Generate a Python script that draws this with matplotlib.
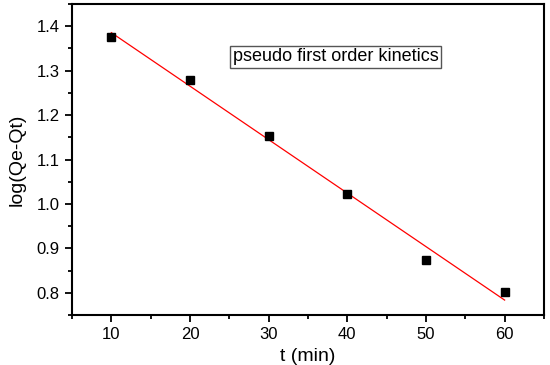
import numpy as np
import matplotlib
matplotlib.use("Agg")
import matplotlib.pyplot as plt
from matplotlib.ticker import MultipleLocator

plt.rcParams['font.family'] = ['Liberation Sans', 'DejaVu Sans']

t = [10, 20, 30, 40, 50, 60]
logq = [1.375, 1.280, 1.153, 1.023, 0.874, 0.802]

# linear fit for the red line
k, b = np.polyfit(t, logq, 1)
tfit = np.array([t[0], t[-1]])

fig = plt.figure(figsize=(5.5, 3.65), dpi=100)
ax = fig.add_axes([0.131, 0.137, 0.858, 0.852])

ax.plot(tfit, k * tfit + b, color='red', lw=0.9)
ax.plot(t, logq, 's', color='black', ms=6.2)

ax.set_xlim(5, 65)
ax.set_ylim(0.75, 1.45)
ax.xaxis.set_major_locator(MultipleLocator(10))
ax.xaxis.set_minor_locator(MultipleLocator(5))
ax.yaxis.set_major_locator(MultipleLocator(0.1))
ax.yaxis.set_minor_locator(MultipleLocator(0.05))
ax.yaxis.set_major_formatter(plt.FormatStrFormatter('%.1f'))
ax.tick_params(which='major', direction='out', length=5, width=1.3, labelsize=12, pad=4)
ax.tick_params(which='minor', direction='out', length=3, width=1.3)
ax.tick_params(top=False, right=False)
for s in ax.spines.values():
    s.set_linewidth(1.5)

ax.set_xlabel('t (min)', fontsize=14, labelpad=4)
ax.set_ylabel('log(Qe-Qt)', fontsize=14, labelpad=8)

ax.text(38.5, 1.331, 'pseudo first order kinetics', fontsize=13, ha='center', va='center',
        bbox=dict(boxstyle='square,pad=0.12', fc='white', ec='#555555', lw=1))

fig.savefig('out.png', dpi=100)
